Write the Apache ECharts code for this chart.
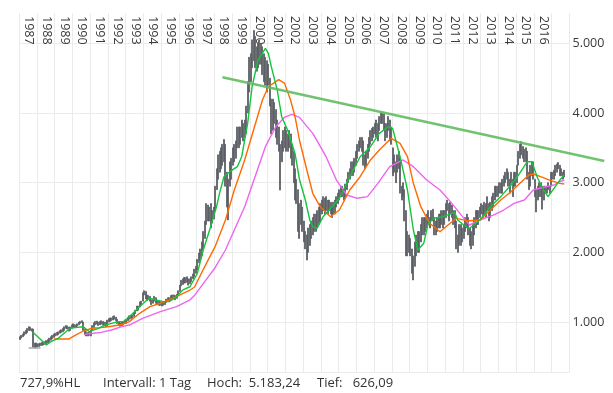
<!DOCTYPE html>
<html><head><meta charset="utf-8">
<script src="https://cdn.jsdelivr.net/npm/echarts@6/dist/echarts.min.js"></script>
<style>html,body{margin:0;padding:0;background:#fff}#c{width:613px;height:393px}</style>
</head><body><div id="c"></div>
<script>
// Year tick labels (shown at top) and the years spanned by the time axis
const yearLabels = ['1987','1988','1989','1990','1991','1992','1993','1994','1995','1996','1997','1998','1999','2000','2001','2002','2003','2004','2005','2006','2007','2008','2009','2010','2011','2012','2013','2014','2015','2016'];
const axisYears = yearLabels.concat(['2017']);
const trendYears = axisYears.concat(['2018','2019']);
const monthNames = ['01','02','03','04','05','06','07','08','09','10','11','12'];

// Monthly low / high of the price (1987-01 .. 2017-09)
const lows = [
 750,770,790,810,830,850,880,880,870,640,626,650,
 640,650,660,665,670,680,690,700,720,740,760,780,
 800,810,820,840,850,860,880,910,900,870,880,910,
 930,920,920,940,960,980,990,880,820,800,800,810,
 800,880,920,960,970,950,960,970,960,950,930,950,
 1000,1010,1020,1030,1040,1020,980,950,940,950,960,980,
 980,1020,1040,1050,1060,1080,1120,1160,1170,1220,1250,1300,
 1390,1330,1310,1320,1300,1250,1270,1300,1270,1250,1240,1240,
 1230,1240,1250,1280,1300,1300,1320,1330,1330,1320,1340,1380,
 1440,1520,1540,1560,1560,1570,1530,1550,1580,1620,1650,1700,
 1750,1850,1900,1950,2050,2200,2400,2450,2450,2350,2420,2480,
 2600,2900,3050,3150,3200,3250,3300,2950,2650,2465,2950,3050,
 3250,3300,3350,3500,3500,3550,3650,3600,3650,3700,4000,4300,
 4450,4650,4750,4650,4600,4650,4700,4700,4550,4450,4400,4300,
 4400,4100,3700,3750,3850,3650,3550,3450,2895,3300,3450,3500,
 3450,3450,3500,3350,3250,3000,2750,2700,2300,2200,2400,2300,
 2150,2050,1890,2000,2100,2200,2250,2300,2300,2350,2400,2450,
 2550,2600,2550,2600,2550,2600,2550,2500,2550,2550,2650,2700,
 2750,2800,2800,2750,2800,2900,3000,3050,3100,3100,3150,3250,
 3350,3450,3500,3450,3250,3200,3250,3350,3450,3550,3600,3650,
 3700,3650,3600,3750,3850,3850,3750,3600,3650,3750,3600,3550,
 3100,3150,3000,3150,3200,2850,2750,2800,2450,1950,1950,2000,
 1950,1700,1604,1800,1950,2000,2000,2150,2250,2250,2300,2350,
 2400,2350,2450,2450,2250,2250,2300,2350,2350,2400,2350,2400,
 2500,2600,2450,2550,2500,2400,2350,2050,2000,2100,2100,2150,
 2200,2300,2350,2250,2100,2050,2100,2250,2350,2400,2400,2500,
 2550,2500,2550,2500,2600,2450,2500,2600,2650,2750,2800,2800,
 2850,2850,2850,2950,3000,3050,2950,2850,3000,2800,2950,2950,
 3000,3250,3350,3400,3350,3300,3300,3050,2900,2950,3100,3050,
 2800,2580,2750,2800,2800,2620,2750,2850,2850,2900,2850,2950,
 3050,3050,3100,3150,3200,3100,3100,3050,3080
];
const highs = [
 790,810,830,860,880,910,934,925,905,900,700,700,
 690,690,700,710,715,720,735,750,770,790,810,830,
 840,850,860,880,890,910,934,950,945,930,930,960,
 975,965,960,975,1000,1010,1020,1000,900,860,850,850,
 880,950,990,1010,1015,1000,1010,1020,1010,1000,1000,1030,
 1050,1060,1060,1080,1090,1070,1040,1000,990,1000,1010,1030,
 1030,1070,1090,1090,1100,1130,1170,1230,1230,1290,1300,1420,
 1450,1440,1390,1380,1370,1320,1330,1370,1350,1310,1300,1290,
 1290,1290,1300,1330,1350,1350,1380,1390,1390,1380,1400,1450,
 1530,1600,1620,1640,1640,1650,1620,1620,1650,1690,1760,1800,
 1900,1990,2050,2150,2300,2450,2700,2680,2650,2700,2600,2650,
 2950,3200,3400,3450,3500,3550,3620,3550,3150,3050,3300,3350,
 3500,3550,3600,3800,3800,3800,3900,3850,3900,4100,4450,4800,
 4850,5050,5183,5100,4950,5000,5050,5000,4950,4850,4800,4750,
 4700,4500,4200,4200,4150,4050,3900,3800,3550,3600,3750,3800,
 3750,3700,3750,3700,3550,3450,3200,3050,2900,2700,2750,2650,
 2450,2300,2250,2350,2400,2450,2500,2550,2550,2600,2650,2700,
 2750,2800,2780,2800,2750,2750,2720,2680,2720,2750,2800,2850,
 2900,2950,2950,2900,2980,3050,3150,3200,3300,3300,3350,3450,
 3550,3600,3650,3650,3600,3400,3450,3550,3650,3750,3780,3800,
 3850,3900,3850,3950,4000,4000,3990,3850,3850,3950,3900,3800,
 3500,3400,3300,3400,3450,3350,2950,3000,2900,2600,2300,2250,
 2200,2050,1950,2150,2250,2300,2300,2400,2500,2500,2500,2550,
 2600,2500,2600,2620,2500,2450,2500,2550,2550,2600,2600,2600,
 2700,2750,2700,2720,2680,2600,2600,2450,2250,2400,2400,2350,
 2400,2500,2550,2500,2350,2300,2400,2500,2600,2600,2600,2650,
 2700,2680,2720,2700,2800,2700,2720,2800,2850,2950,2950,2950,
 3000,3000,3050,3100,3150,3200,3150,3050,3150,3050,3150,3150,
 3250,3450,3550,3589,3520,3480,3500,3450,3150,3250,3300,3300,
 3050,2900,2950,3000,3000,2950,2950,2950,2950,3000,2950,3150,
 3150,3180,3250,3270,3290,3250,3200,3150,3180
];

// Moving averages (month, value)
const greenMonths = ['1987-10','1988-07','1988-10','1989-03','1989-07','1989-11','1990-02','1990-08','1990-12','1991-06','1991-11','1992-03','1992-08','1992-11','1993-03','1993-10','1994-03','1994-05','1994-09','1995-02','1995-06','1995-11','1996-03','1996-08','1997-01','1997-05','1997-10','1998-02','1998-04','1998-07','1998-11','1999-04','1999-07','1999-11','2000-02','2000-06','2000-11','2001-01','2001-03','2001-07','2001-10','2002-02','2002-07','2002-10','2003-02','2003-05','2003-07','2003-10','2004-02','2004-09','2005-01','2005-08','2006-03','2006-10','2007-04','2007-10','2008-01','2008-06','2008-11','2009-03','2009-06','2009-10','2010-01','2010-05','2010-11','2011-05','2011-07','2011-09','2012-01','2012-05','2012-12','2013-07','2014-02','2014-09','2015-02','2015-08','2015-11','2016-03','2016-07','2016-10','2017-02','2017-06','2017-09'];
const greenVals = [853,671,719,767,839,911,920,934,862,911,958,982,1006,1006,1077,1221,1317,1341,1317,1293,1293,1364,1459,1507,1700,2034,2369,2656,2847,3086,3158,3230,3373,3852,4377,4760,4928,4856,4665,4330,3947,3756,3420,3050,2752,2465,2370,2346,2512,2680,2776,3086,3373,3517,3708,3803,3780,3373,2895,2321,2034,2130,2417,2489,2512,2561,2570,2465,2393,2346,2465,2656,2800,2967,3110,3301,3301,3063,2895,2800,2919,3038,3110];

const orangeMonths = ['1988-12','1989-10','1990-03','1990-08','1991-02','1991-08','1992-03','1992-10','1993-03','1993-10','1994-05','1994-12','1995-06','1996-01','1996-08','1996-11','1997-06','1998-01','1998-08','1999-02','1999-09','2000-03','2000-09','2001-01','2001-08','2001-12','2002-04','2002-07','2002-10','2003-03','2003-07','2003-12','2004-07','2005-01','2005-08','2006-03','2006-10','2007-04','2007-12','2008-06','2008-11','2009-03','2009-08','2010-02','2010-09','2011-01','2011-08','2012-03','2012-05','2012-12','2013-07','2014-02','2014-09','2015-03','2015-09','2015-12','2016-05','2016-11','2017-06','2017-09'];
const orangeVals = [757,757,815,872,911,920,940,965,1006,1126,1221,1270,1317,1388,1460,1500,1795,2082,2465,2895,3326,3756,4186,4377,4480,4425,4186,3950,3613,3182,2848,2656,2512,2608,2895,3086,3326,3469,3637,3565,3373,2991,2656,2417,2297,2369,2489,2455,2455,2465,2608,2752,2871,2991,3110,3125,3086,3038,2991,2981];

const magentaMonths = ['1990-09','1991-03','1991-08','1992-03','1992-10','1993-03','1993-12','1994-12','1995-11','1996-08','1996-11','1997-06','1998-01','1998-08','1999-02','1999-09','2000-04','2000-11','2001-06','2001-12','2002-05','2002-10','2003-07','2004-04','2004-11','2005-06','2006-01','2006-08','2007-03','2007-11','2008-08','2009-03','2009-12','2010-09','2011-04','2011-11','2012-05','2012-12','2013-09','2014-04','2014-11','2015-06','2015-12','2016-07','2017-02','2017-06','2017-09'];
const magentaVals = [825,839,853,887,934,958,1054,1149,1221,1317,1380,1580,1780,2034,2321,2656,3086,3517,3803,3940,3980,3938,3708,3373,3038,2823,2776,2800,2991,3230,3326,3230,3038,2895,2728,2545,2393,2465,2536,2608,2704,2752,2895,2934,2967,3014,3038];

// Trend line end points (month, value)
const trendMonths = ['1998-06','2019-12'];
const trendVals = [4512, 3311];

// Low marker and footer texts
const lowValue = 626.09;
const lowMarkMonths = ['1987-07','1988-03'];
const footer = ['727,9%HL', 'Intervall: 1 Tag', 'Hoch:  5.183,24', 'Tief:   626,09'];

// ---- build
const months = [];
axisYears.forEach(y => monthNames.forEach(m => months.push(y + '-' + m)));
const monthsLong = [];
trendYears.forEach(y => monthNames.forEach(m => monthsLong.push(y + '-' + m)));

const ohlc = lows.map((l, i) => [l, highs[i], l, highs[i]]);
const zip = (a, b) => a.map((m, i) => [m, b[i]]);
const fmt = v => { const s = String(Math.round(v)); return s.length > 3 ? s.slice(0, s.length - 3) + '.' + s.slice(-3) : s; };

const FONT = '"Open Sans", "Noto Sans", sans-serif';
const Y = { min: 278, max: 5435 };
const GRAY = '#5a5e64';

const chart = echarts.init(document.getElementById('c'), null, { renderer: 'canvas' });
chart.setOption({
  animation: false,
  backgroundColor: '#ffffff',
  grid: [
    { left: 19, right: 43.5, top: 13, bottom: 20.6 },
    { left: 19, right: 8, top: 13, bottom: 20.6 }
  ],
  xAxis: [{
    type: 'category', gridIndex: 0, data: months, position: 'top', boundaryGap: true,
    axisLine: { show: false }, axisTick: { show: false },
    axisLabel: {
      inside: true, rotate: 90, margin: 3, color: '#3a3a3a', fontSize: 12.5, fontFamily: FONT,
      interval: (i, v) => v.endsWith('-07') && yearLabels.indexOf(v.slice(0, 4)) >= 0,
      formatter: v => v.slice(0, 4)
    },
    splitLine: { show: true, interval: (i, v) => v.endsWith('-01'), lineStyle: { color: '#ebebeb', width: 1 } }
  }, {
    type: 'category', gridIndex: 1, data: monthsLong, show: false, boundaryGap: true
  }],
  yAxis: [{
    type: 'value', gridIndex: 0, position: 'right', min: Y.min, max: Y.max, splitNumber: 5,
    axisLine: { show: false }, axisTick: { show: false },
    axisLabel: { margin: 3, color: '#3a3a3a', fontSize: 12.5, fontFamily: FONT, showMinLabel: false, showMaxLabel: false, formatter: fmt },
    splitLine: { show: true, showMaxLine: false, lineStyle: { color: '#ebebeb', width: 1 } }
  }, {
    type: 'value', gridIndex: 1, min: Y.min, max: Y.max, show: false, splitLine: { show: false }
  }],
  series: [{
    type: 'candlestick', xAxisIndex: 0, yAxisIndex: 0, data: ohlc, barWidth: 1.5,
    itemStyle: { color: GRAY, color0: GRAY, borderColor: GRAY, borderColor0: GRAY, borderWidth: 0.8 },
    markLine: {
      silent: true, symbol: 'none', label: { show: false },
      lineStyle: { color: '#a9a9a9', width: 1.5, type: 'solid' },
      data: [[{ coord: [lowMarkMonths[0], lowValue] }, { coord: [lowMarkMonths[1], lowValue] }]]
    }
  }, {
    type: 'line', xAxisIndex: 0, yAxisIndex: 0, data: zip(magentaMonths, magentaVals), symbol: 'none',
    lineStyle: { color: '#f064f0', width: 1.4 }
  }, {
    type: 'line', xAxisIndex: 0, yAxisIndex: 0, data: zip(orangeMonths, orangeVals), symbol: 'none',
    lineStyle: { color: '#ff6a00', width: 1.4 }
  }, {
    type: 'line', xAxisIndex: 0, yAxisIndex: 0, data: zip(greenMonths, greenVals), symbol: 'none',
    lineStyle: { color: '#12c43a', width: 1.4 }
  }, {
    type: 'line', xAxisIndex: 1, yAxisIndex: 1, data: zip(trendMonths, trendVals), symbol: 'none',
    lineStyle: { color: 'rgba(98,188,96,0.9)', width: 2.6 }
  }],
  graphic: footer.map((t, i) => ({
    type: 'text', left: [20, 103, 207, 317][i], top: 377,
    style: { text: t, fill: '#333333', font: '13px ' + FONT }
  }))
});
</script>
</body></html>
